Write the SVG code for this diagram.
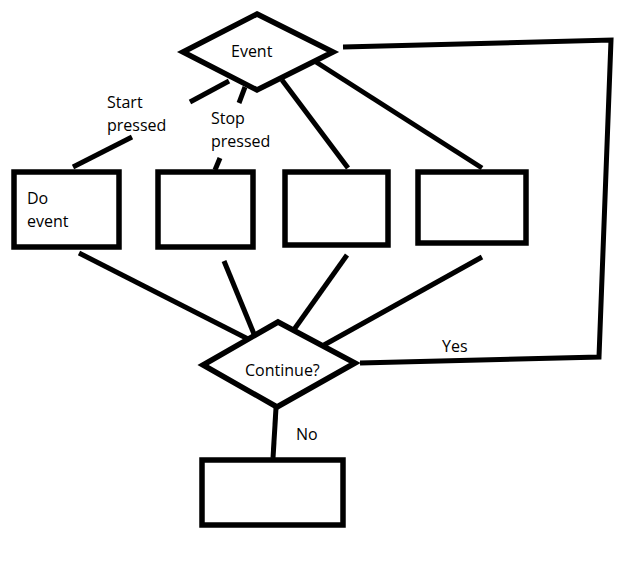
<svg xmlns="http://www.w3.org/2000/svg" width="637" height="566" viewBox="0 0 637 566">
<style>
.s{fill:#fff;stroke:#000;stroke-width:5.5}
.c{fill:none;stroke:#000;stroke-width:5;stroke-linejoin:miter}
.t{font-family:"Open Sans","Noto Sans","Liberation Sans",sans-serif;font-size:16px;fill:#000}
</style>
<rect width="637" height="566" fill="#fff"/>
<g id="connectors">
<polyline class="c" points="343,47 611,40 599,357 360,363"/>
<line class="c" x1="73" y1="167" x2="132" y2="137"/>
<line class="c" x1="190" y1="102" x2="229" y2="81"/>
<line class="c" x1="215" y1="170" x2="220" y2="158"/>
<line class="c" x1="239" y1="103" x2="245" y2="87"/>
<line class="c" x1="282" y1="80" x2="348" y2="168"/>
<line class="c" x1="316" y1="62" x2="482" y2="168"/>
<line class="c" x1="79" y1="253" x2="250" y2="340"/>
<line class="c" x1="224" y1="261" x2="254" y2="334"/>
<line class="c" x1="347" y1="255" x2="293" y2="331"/>
<line class="c" x1="482" y1="257" x2="324" y2="345"/>
<line class="c" x1="276" y1="408" x2="273" y2="458"/>
</g>
<g id="event">
<polygon class="s" points="257,14 333,52 257,90 183,52"/>
<text class="t" x="231" y="57">Event</text>
</g>
<g id="box1">
<rect class="s" x="14" y="172" width="105" height="75"/>
<text class="t" x="27" y="204">Do</text>
<text class="t" x="27" y="227">event</text>
</g>
<g id="box2">
<rect class="s" x="158" y="172" width="95" height="75"/>
</g>
<g id="box3">
<rect class="s" x="285" y="172" width="103" height="73"/>
</g>
<g id="box4">
<rect class="s" x="418" y="172" width="108" height="71"/>
</g>
<g id="continue">
<polygon class="s" points="278,322 355,363 277,407 203,365"/>
<text class="t" x="245" y="376">Continue?</text>
</g>
<g id="end">
<rect class="s" x="202" y="460" width="141" height="65"/>
</g>
<g id="labels">
<text class="t" x="107" y="108">Start</text>
<text class="t" x="107" y="131">pressed</text>
<text class="t" x="211" y="124">Stop</text>
<text class="t" x="211" y="147">pressed</text>
<text class="t" x="296" y="440">No</text>
<text class="t" x="442" y="352">Yes</text>
</g>
</svg>
